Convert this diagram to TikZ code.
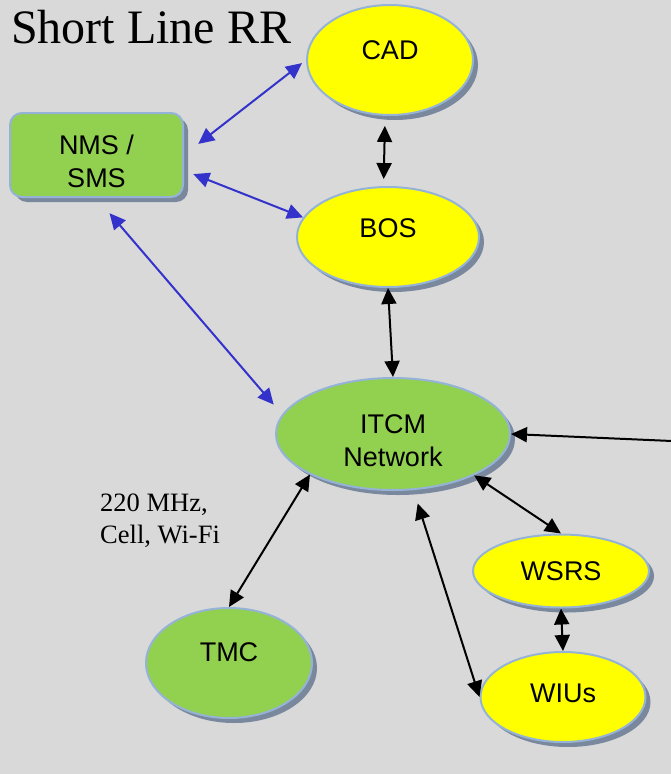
\documentclass[tikz,border=0pt]{standalone}
\usepackage{fontspec}
\setmainfont{Liberation Serif}
\newfontfamily\arialfont{Liberation Sans}
\usetikzlibrary{shapes.geometric, arrows.meta, shadows, positioning}

\definecolor{bggray}{RGB}{217,217,217}
\definecolor{nodegreen}{RGB}{146,208,80}
\definecolor{nodeyellow}{RGB}{255,255,0}
\definecolor{rimblue}{RGB}{149,179,215}
\definecolor{shadowgray}{RGB}{122,136,158}
\definecolor{linkblue}{RGB}{51,51,204}

% shift the letters in a node without changing its box
\newcommand{\lift}[2]{\raisebox{#1}[\height][\depth]{#2}}

\tikzset{
  unit/.style={draw=rimblue, line width=2pt, inner sep=0pt, align=center,
    font=\arialfont\fontsize{27}{33}\selectfont,
    drop shadow={shadow xshift=5pt, shadow yshift=-5pt, fill=shadowgray, opacity=1}},
  greenunit/.style={unit, ellipse, fill=nodegreen},
  yellowunit/.style={unit, ellipse, fill=nodeyellow},
  boxunit/.style={unit, rectangle, rounded corners=12pt, fill=nodegreen},
  link/.style={line width=2pt, {Triangle[length=16pt,width=15pt]}-{Triangle[length=16pt,width=15pt]}},
  feedlink/.style={line width=2pt, -{Triangle[length=16pt,width=15pt]}},
  bluelink/.style={link, color=linkblue}
}

\begin{document}
\begin{tikzpicture}[x=1pt, y=-1pt]

% background
\useasboundingbox[fill=bggray] (0,0) rectangle (671,774);

% --- Title and label ---
\node[anchor=base west, inner sep=0pt, font=\fontsize{48}{58}\selectfont] (title) at (11,43) {Short Line RR};
\node[anchor=north west, inner sep=0pt, align=left, font=\fontsize{26.5}{32}\selectfont] (radio) at (100,494) {220 MHz,\\Cell, Wi-Fi};

% --- Nodes ---
\node[yellowunit, minimum width=166, minimum height=110] (cad) at (390,60) {\lift{10pt}{CAD}};
\node[boxunit, minimum width=173, minimum height=84] (nms) at (96.5,155) {\lift{-6pt}{NMS /}\\\lift{-6pt}{SMS}};
\node[yellowunit, minimum width=182, minimum height=100] (bos) at (388,237) {\lift{9pt}{BOS}};
\node[greenunit, minimum width=234, minimum height=112] (itcm) at (393,434) {\lift{-7pt}{ITCM}\\\lift{-7pt}{Network}};
\node[yellowunit, minimum width=176, minimum height=73] (wsrs) at (561,571) {WSRS};
\node[yellowunit, minimum width=165, minimum height=90] (wius) at (563,697) {\lift{4pt}{WIUs}};
\node[greenunit, minimum width=166, minimum height=110] (tmc) at (229,663) {\lift{11pt}{TMC}};

% feed coming in from the right edge
\coordinate (feed) at (672,441);

% --- Blue links to NMS / SMS ---
\draw[bluelink, shorten <=18pt, shorten >=5pt] (nms.east) -- (cad.west);
\draw[bluelink, shorten <=10pt] (nms.-10) -- (bos.167);
\draw[bluelink, shorten <=20pt, shorten >=13pt] (nms.south) -- (itcm.170);

% --- Black links ---
\draw[link, shorten <=10pt, shorten >=7pt] (cad.265) -- (bos.95);
\draw[link] (bos.south) -- (itcm.north);
\draw[feedlink] (feed) -- (itcm.east);
\draw[link] (itcm.-27) -- (wsrs.north);
\draw[link, shorten <=14pt] (itcm.-70) -- (wius.west);
\draw[link] (wsrs.south) -- (wius.north);
\draw[link] (itcm.206) -- (tmc.north);

\end{tikzpicture}
\end{document}
